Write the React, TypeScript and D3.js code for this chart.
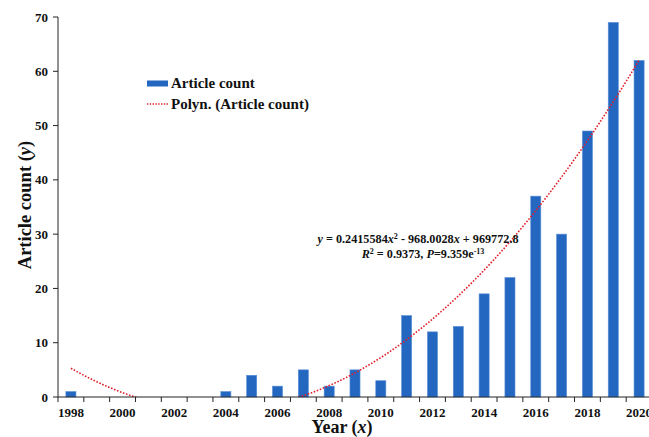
import React from "react";
import * as d3 from "d3";

// Yearly article counts
const years: number[] = [1998, 1999, 2000, 2001, 2002, 2003, 2004, 2005, 2006, 2007, 2008, 2009, 2010, 2011, 2012, 2013, 2014, 2015, 2016, 2017, 2018, 2019, 2020];
const counts: number[] = [1, 0, 0, 0, 0, 0, 1, 4, 2, 5, 2, 5, 3, 15, 12, 13, 19, 22, 37, 30, 49, 69, 62];
const yTicks: number[] = [0, 10, 20, 30, 40, 50, 60, 70];
// Second-order polynomial trendline: y = a*x^2 + b*x + c
const polyCoef: number[] = [0.2415584, -968.0028, 969772.8];

const W = 649;
const H = 437;
const margin = { left: 58, top: 17, right: -3, bottom: 40 };
const FONT = "'Liberation Serif', 'Times New Roman', serif";

export default function App() {
  const x = d3
    .scaleBand<number>()
    .domain(years)
    .range([margin.left, W - margin.right])
    .paddingInner(0.61)
    .paddingOuter(0.305);
  const y = d3.scaleLinear().domain([0, 70]).range([H - margin.bottom, margin.top]);
  const step = (W - margin.right - margin.left) / years.length;
  const center = (yr: number) => margin.left + (yr - years[0] + 0.5) * step;
  const [a, b, c] = polyCoef;
  const poly = (t: number) => a * t * t + b * t + c;

  const fine: number[] = d3.range(years[0], years[years.length - 1] + 0.0001, 0.05);
  const line = d3
    .line<number>()
    .x((t) => center(t))
    .y((t) => y(poly(t)));

  const y0 = y(0);
  const boundaries = d3.range(years.length + 1).map((i) => margin.left + i * step);

  return (
    <svg width={W} height={H} style={{ position: "absolute", left: 0, top: 0, background: "#fff" }}>
      <defs>
        <clipPath id="plot">
          <rect x={margin.left} y={margin.top - 2} width={W - margin.left + 10} height={y0 - margin.top + 2} />
        </clipPath>
      </defs>
      {/* bars */}
      {years.map((yr, i) => (
        <rect
          key={yr}
          x={x(yr)}
          y={y(counts[i])}
          width={x.bandwidth()}
          height={y0 - y(counts[i])}
          fill="#2467C1"
          stroke="#5a8fd6"
          strokeWidth={0.6}
        />
      ))}
      {/* trendline */}
      <path
        d={line(fine) || ""}
        fill="none"
        stroke="#e0202a"
        strokeWidth={1.6}
        strokeDasharray="1.6 1.6"
        clipPath="url(#plot)"
      />
      {/* y axis */}
      <line x1={margin.left} x2={margin.left} y1={margin.top} y2={y0} stroke="#222" strokeWidth={1} />
      {yTicks.map((t) => (
        <g key={t}>
          <line x1={margin.left - 5} x2={margin.left} y1={y(t)} y2={y(t)} stroke="#222" />
          <text
            x={margin.left - 10}
            y={y(t)}
            dy="0.35em"
            textAnchor="end"
            fontFamily={FONT}
            fontWeight="bold"
            fontSize={13}
            fill="#111"
          >
            {t}
          </text>
        </g>
      ))}
      {/* x axis */}
      <line x1={margin.left} x2={W + 5} y1={y0} y2={y0} stroke="#222" strokeWidth={1} />
      {boundaries.map((bx, i) => (
        <line key={i} x1={bx} x2={bx} y1={y0} y2={y0 + 5} stroke="#222" />
      ))}
      {years
        .filter((yr) => (yr - years[0]) % 2 === 0)
        .map((yr) => (
          <text
            key={yr}
            x={center(yr)}
            y={y0 + 20}
            textAnchor="middle"
            fontFamily={FONT}
            fontWeight="bold"
            fontSize={13}
            fill="#111"
          >
            {yr}
          </text>
        ))}
      {/* axis titles */}
      <text x={342} y={433} textAnchor="middle" fontFamily={FONT} fontWeight="bold" fontSize={18} fill="#111">
        Year (<tspan fontStyle="italic">x</tspan>)
      </text>
      <text
        transform={`translate(25,205) rotate(-90)`}
        textAnchor="middle"
        dy="0.35em"
        fontFamily={FONT}
        fontWeight="bold"
        fontSize={18.5}
        fill="#111"
      >
        Article count (<tspan fontStyle="italic">y</tspan>)
      </text>
      {/* legend */}
      <rect x={147} y={80.5} width={21} height={6} fill="#2467C1" />
      <text x={171} y={88} fontFamily={FONT} fontWeight="bold" fontSize={15} fill="#111">
        Article count
      </text>
      <line x1={147} x2={168} y1={104} y2={104} stroke="#e0202a" strokeWidth={1.3} strokeDasharray="1.4 1.4" />
      <text x={171} y={109} fontFamily={FONT} fontWeight="bold" fontSize={15} fill="#111">
        Polyn. (Article count)
      </text>
      {/* trendline equation */}
      <text x={418} y={243} textAnchor="middle" fontFamily={FONT} fontWeight="bold" fontSize={12.2} fill="#111">
        <tspan fontStyle="italic">y</tspan> = 0.2415584<tspan fontStyle="italic">x</tspan>
        <tspan dy={-4} fontSize={8}>2</tspan>
        <tspan dy={4}> - 968.0028</tspan>
        <tspan fontStyle="italic">x</tspan> + 969772.8
      </text>
      <text x={423} y={258} textAnchor="middle" fontFamily={FONT} fontWeight="bold" fontSize={12.2} fill="#111">
        <tspan fontStyle="italic">R</tspan>
        <tspan dy={-4} fontSize={8}>2</tspan>
        <tspan dy={4}> = 0.9373, </tspan>
        <tspan fontStyle="italic">P</tspan>=9.359e
        <tspan dy={-4} fontSize={8}>-13</tspan>
      </text>
    </svg>
  );
}
